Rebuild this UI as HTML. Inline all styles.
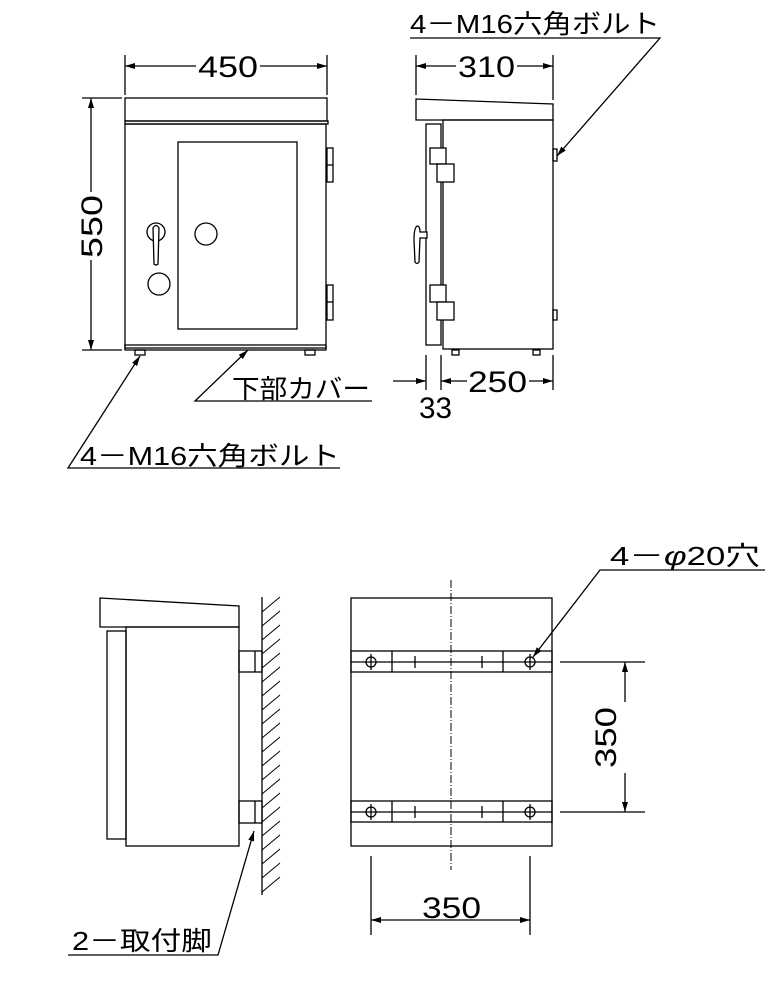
<!DOCTYPE html>
<html><head><meta charset="utf-8"><style>body{margin:0;background:#fff}svg{display:block}text{font-family:"Liberation Sans","Noto Sans CJK JP",sans-serif;fill:#000}</style></head><body>
<svg width="770" height="1000" viewBox="0 0 770 1000" xmlns="http://www.w3.org/2000/svg">
<defs><marker id="a" viewBox="0 0 10 6" refX="10" refY="3" markerWidth="10" markerHeight="6" orient="auto-start-reverse" markerUnits="userSpaceOnUse"><path d="M0,0L10,3L0,6z" fill="#000"/></marker></defs>
<g fill="none" stroke="#000" stroke-width="1.3">
<rect x="125" y="98" width="202" height="23"/>
<rect x="125" y="121" width="203" height="3"/>
<rect x="125" y="124" width="201" height="224"/>
<rect x="125" y="345" width="201" height="5"/>
<rect x="178" y="142" width="119" height="187"/>
<circle cx="206" cy="234" r="11"/><circle cx="159" cy="284" r="11"/><circle cx="156" cy="232" r="9"/>
<path d="M153,228 Q156,223 159,228 L158,264 Q156,266 154,264 Z" fill="#fff"/>
<rect x="327" y="148" width="6" height="34"/><line x1="327" y1="165" x2="333" y2="165"/>
<rect x="327" y="285" width="6" height="35"/><line x1="327" y1="302" x2="333" y2="302"/>
<rect x="135" y="350" width="10" height="5"/><rect x="305" y="350" width="10" height="5"/>
<line x1="125" y1="55" x2="125" y2="95"/><line x1="327" y1="55" x2="327" y2="95"/>
<line x1="125" y1="66" x2="196" y2="66" marker-start="url(#a)"/><line x1="260" y1="66" x2="327" y2="66" marker-end="url(#a)"/>
<line x1="82" y1="98" x2="122" y2="98"/><line x1="82" y1="350" x2="122" y2="350"/>
<line x1="91" y1="98" x2="91" y2="192" marker-start="url(#a)"/><line x1="91" y1="260" x2="91" y2="350" marker-end="url(#a)"/>
<path d="M416,99 L553,104 L553,120 L416,120 Z"/>
<rect x="426" y="124" width="15" height="221"/>
<rect x="443" y="120" width="110" height="229"/>
<rect x="430" y="148" width="16" height="16" fill="#fff"/><rect x="437" y="164" width="17" height="18" fill="#fff"/>
<rect x="430" y="285" width="16" height="17" fill="#fff"/><rect x="437" y="302" width="17" height="18" fill="#fff"/>
<path d="M417,226 Q414,228 414,240 L415,262 Q417,265 419,262 L420,238 L427,238 L427,232 L420,232 Q420,226 417,226Z" fill="#fff"/>
<rect x="553" y="149" width="4" height="12"/><rect x="553" y="310" width="4" height="10"/>
<rect x="452" y="350" width="7" height="5"/><rect x="533" y="350" width="7" height="5"/>
<line x1="416" y1="55" x2="416" y2="95"/><line x1="553" y1="55" x2="553" y2="100"/>
<line x1="416" y1="66" x2="456" y2="66" marker-start="url(#a)"/><line x1="517" y1="66" x2="553" y2="66" marker-end="url(#a)"/>
<line x1="426" y1="355" x2="426" y2="390"/><line x1="441" y1="355" x2="441" y2="390"/><line x1="553" y1="355" x2="553" y2="390"/>
<line x1="393" y1="381" x2="426" y2="381" marker-end="url(#a)"/><line x1="441" y1="381" x2="467" y2="381" marker-start="url(#a)"/>
<line x1="529" y1="381" x2="553" y2="381" marker-end="url(#a)"/>
<polyline points="410,38 660,38 557,156" marker-end="url(#a)"/>
<polyline points="372,401 195,401 248,350" marker-end="url(#a)"/>
<polyline points="340,468 68,468 140,356" marker-end="url(#a)"/>
<polyline points="765,570 600,570 533,657" marker-end="url(#a)"/>
<polyline points="68,955 218,955 254,831" marker-end="url(#a)"/>
<path d="M100,598 L239,606 L239,627 L100,627 Z"/>
<rect x="126" y="627" width="113" height="219"/>
<rect x="107" y="631" width="19" height="208"/>
<rect x="239" y="651" width="23" height="21"/><line x1="255" y1="651" x2="255" y2="672"/>
<rect x="239" y="801" width="23" height="22"/><line x1="255" y1="801" x2="255" y2="823"/>
<line x1="262" y1="597" x2="262" y2="895"/>
</g>
<g stroke="#000" stroke-width="1">
<line x1="262" y1="612" x2="280" y2="597"/><line x1="262" y1="626" x2="280" y2="611"/><line x1="262" y1="640" x2="280" y2="625"/><line x1="262" y1="654" x2="280" y2="639"/><line x1="262" y1="668" x2="280" y2="653"/><line x1="262" y1="682" x2="280" y2="667"/><line x1="262" y1="696" x2="280" y2="681"/><line x1="262" y1="710" x2="280" y2="695"/><line x1="262" y1="724" x2="280" y2="709"/><line x1="262" y1="738" x2="280" y2="723"/><line x1="262" y1="752" x2="280" y2="737"/><line x1="262" y1="766" x2="280" y2="751"/><line x1="262" y1="780" x2="280" y2="765"/><line x1="262" y1="794" x2="280" y2="779"/><line x1="262" y1="808" x2="280" y2="793"/><line x1="262" y1="822" x2="280" y2="807"/><line x1="262" y1="836" x2="280" y2="821"/><line x1="262" y1="850" x2="280" y2="835"/><line x1="262" y1="864" x2="280" y2="849"/><line x1="262" y1="878" x2="280" y2="863"/><line x1="262" y1="892" x2="280" y2="877"/>
</g>
<g fill="none" stroke="#000" stroke-width="1.3">
<rect x="351" y="598" width="201" height="248"/>
<rect x="351" y="651" width="201" height="21"/><line x1="351" y1="662" x2="552" y2="662"/>
<rect x="351" y="801" width="201" height="21"/><line x1="351" y1="812" x2="552" y2="812"/>
<line x1="392" y1="651" x2="392" y2="672"/><line x1="503" y1="651" x2="503" y2="672"/>
<line x1="392" y1="801" x2="392" y2="822"/><line x1="503" y1="801" x2="503" y2="822"/>
<line x1="415" y1="656" x2="415" y2="668"/><line x1="482" y1="656" x2="482" y2="668"/>
<line x1="415" y1="806" x2="415" y2="818"/><line x1="482" y1="806" x2="482" y2="818"/>
<circle cx="371" cy="662" r="5"/><circle cx="530" cy="662" r="5"/><circle cx="371" cy="812" r="5"/><circle cx="530" cy="812" r="5"/>
<line x1="371" y1="654" x2="371" y2="670"/><line x1="530" y1="654" x2="530" y2="670"/><line x1="371" y1="804" x2="371" y2="820"/><line x1="530" y1="804" x2="530" y2="820"/>
<line x1="451" y1="580" x2="451" y2="870" stroke-dasharray="8,2,1,2" stroke-width="1"/>
<line x1="560" y1="662" x2="645" y2="662"/><line x1="560" y1="812" x2="645" y2="812"/>
<line x1="625" y1="662" x2="625" y2="702" marker-start="url(#a)"/><line x1="625" y1="773" x2="625" y2="812" marker-end="url(#a)"/>
<line x1="371" y1="856" x2="371" y2="935"/><line x1="530" y1="856" x2="530" y2="935"/>
<line x1="371" y1="920" x2="530" y2="920" marker-start="url(#a)" marker-end="url(#a)"/>
</g>
<g font-size="30">
<text x="198" y="77" textLength="60" lengthAdjust="spacingAndGlyphs">450</text>
<text x="458" y="77" textLength="57" lengthAdjust="spacingAndGlyphs">310</text>
<text x="468" y="392" textLength="59" lengthAdjust="spacingAndGlyphs">250</text>
<text x="419" y="418" textLength="33" lengthAdjust="spacingAndGlyphs">33</text>
<text transform="translate(102,258) rotate(-90)" textLength="63" lengthAdjust="spacingAndGlyphs">550</text>
<text transform="translate(616,768) rotate(-90)" textLength="61" lengthAdjust="spacingAndGlyphs">350</text>
<text x="422" y="918" textLength="59" lengthAdjust="spacingAndGlyphs">350</text>
</g>
<g font-size="26">
<text x="410" y="33" textLength="250" lengthAdjust="spacingAndGlyphs">4－M16六角ボルト</text>
<text x="232" y="398" textLength="138" lengthAdjust="spacingAndGlyphs">下部カバー</text>
<text x="80" y="465" textLength="260" lengthAdjust="spacingAndGlyphs">4－M16六角ボルト</text>
<text x="610" y="565" textLength="150" lengthAdjust="spacingAndGlyphs">4－<tspan font-style="italic">φ</tspan>20穴</text>
<text x="72" y="950" textLength="140" lengthAdjust="spacingAndGlyphs">2－取付脚</text>
</g>
</svg>
</body></html>
